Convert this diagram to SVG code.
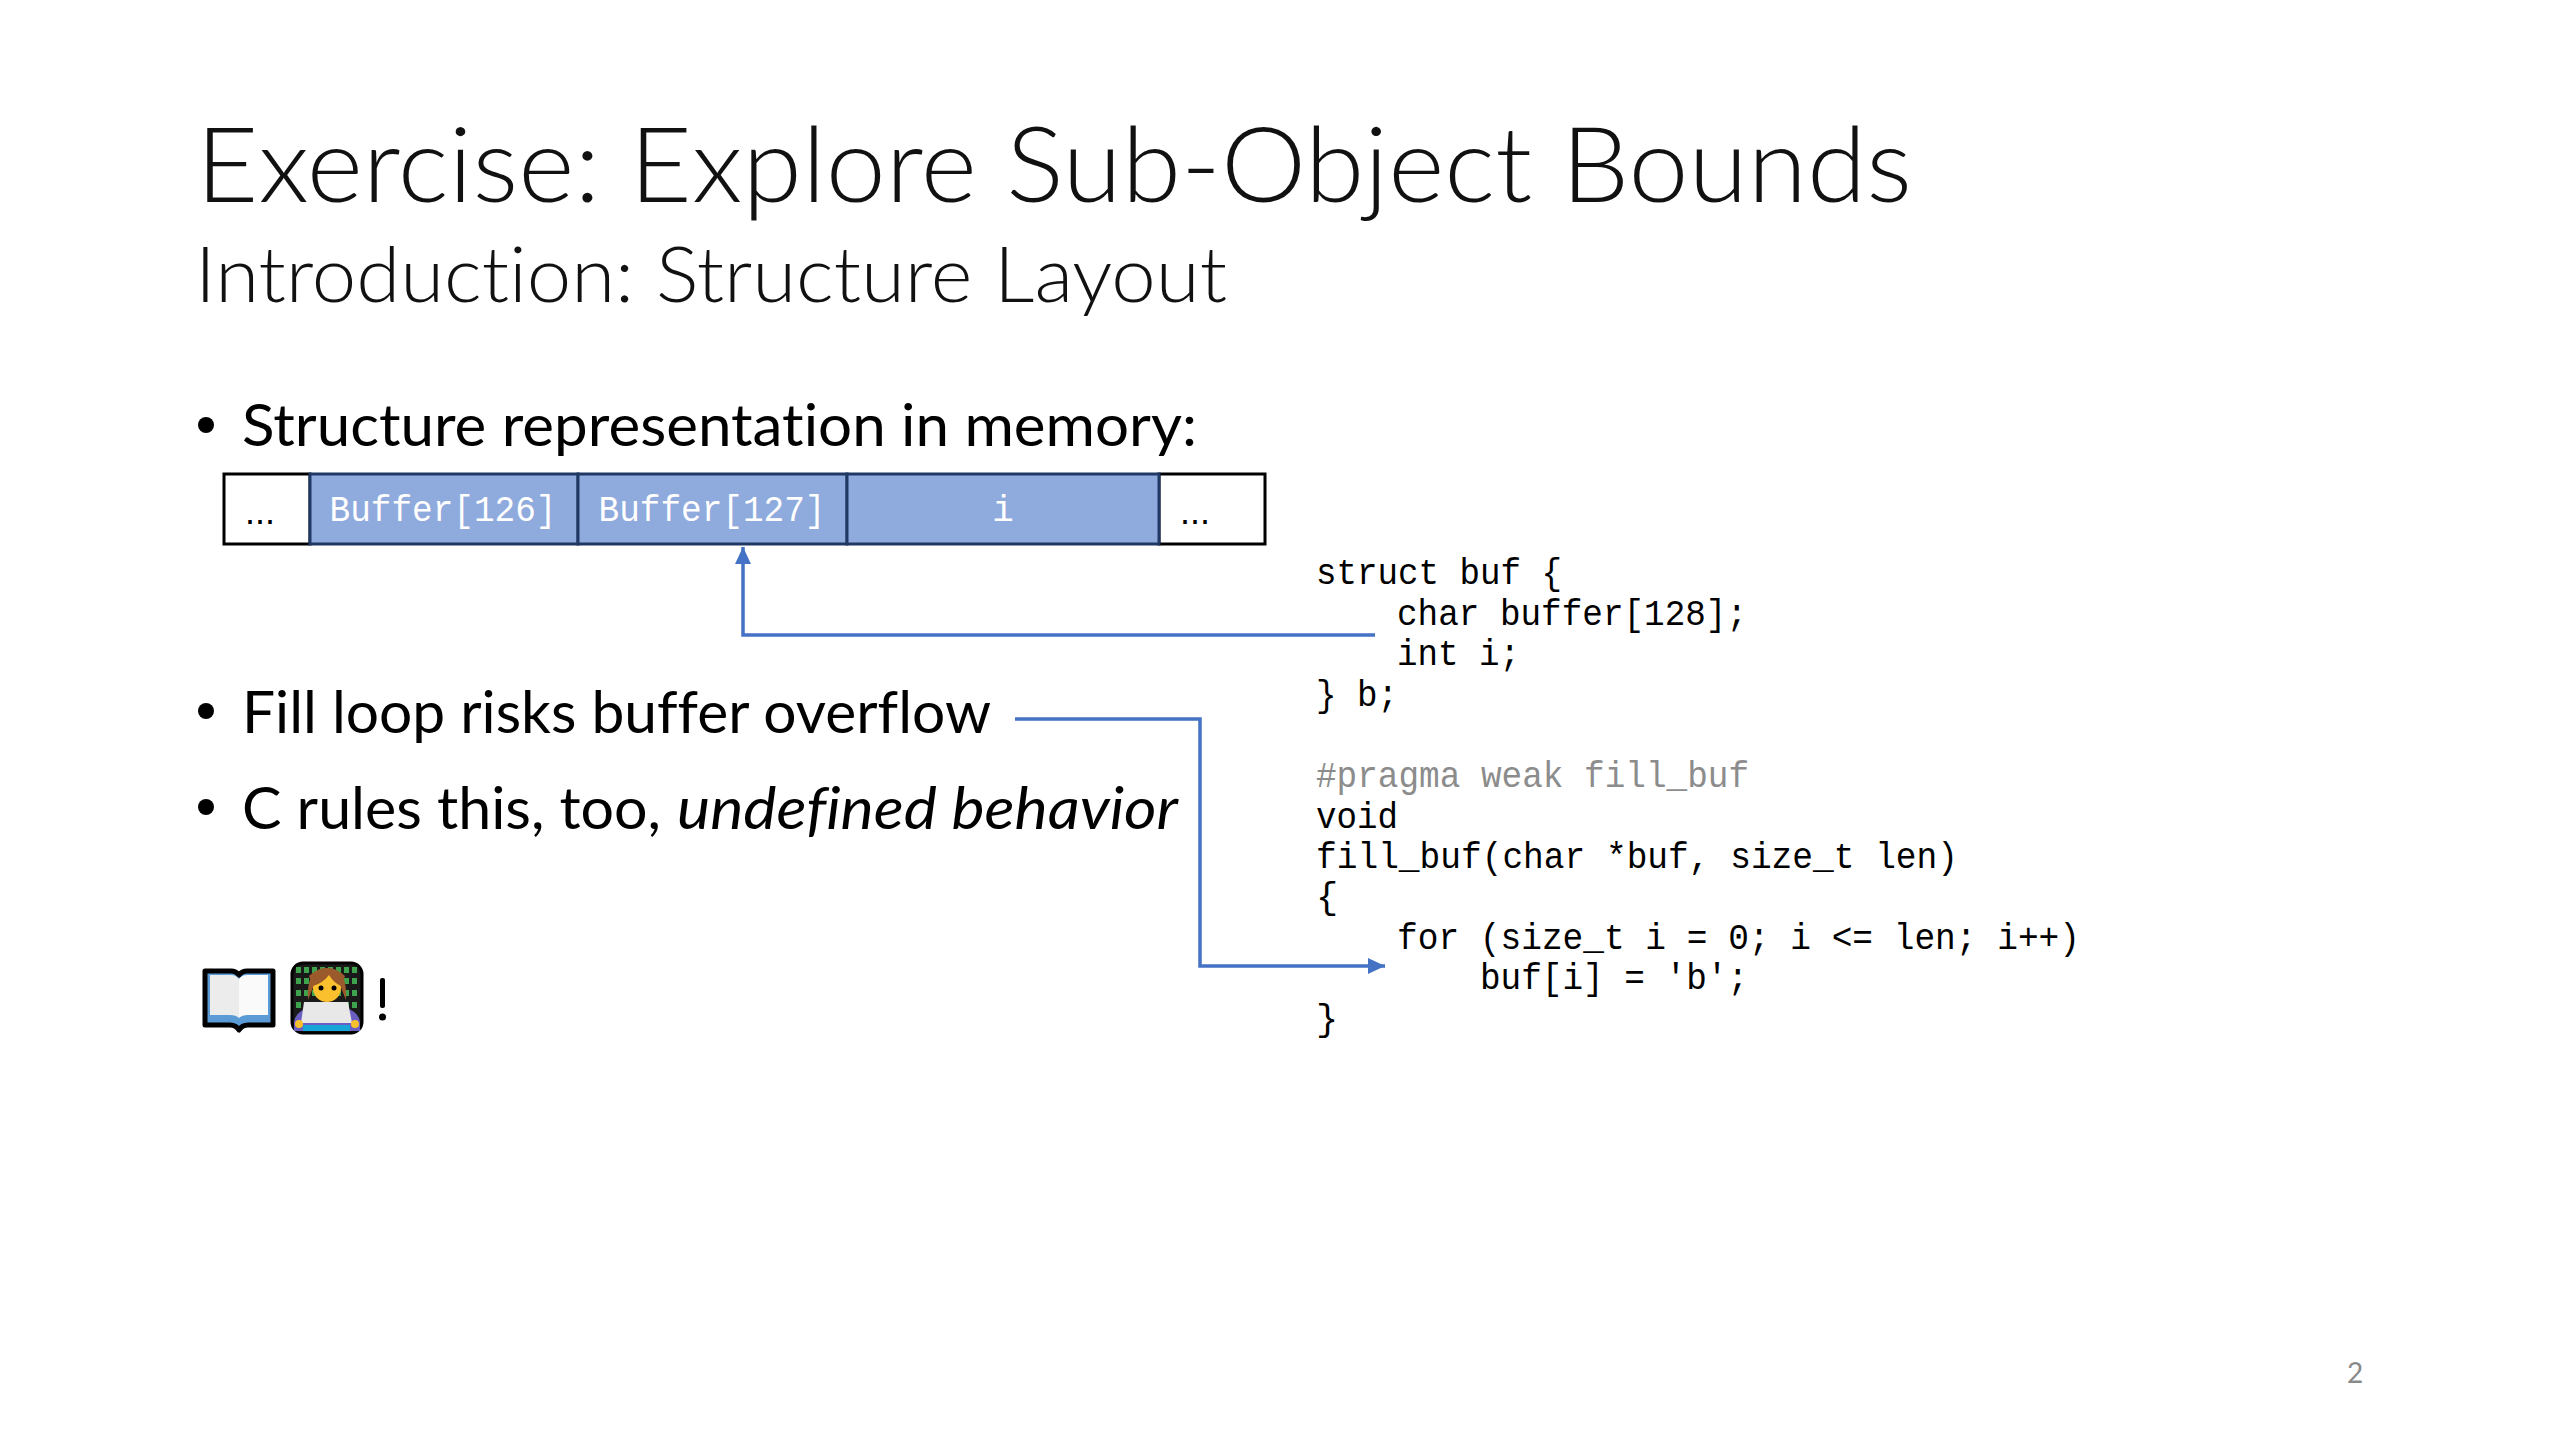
<svg xmlns="http://www.w3.org/2000/svg" width="2560" height="1440" viewBox="0 0 2560 1440">
<style>
text{font-variant-ligatures:none}
.h{font-family:Lato,"Open Sans","Liberation Sans",sans-serif;font-weight:300;fill:#111}
.b{font-family:Lato,"Open Sans","Liberation Sans",sans-serif;font-size:58px;fill:#000}
.c{font-family:"Liberation Mono","DejaVu Sans Mono",monospace;font-size:37px;fill:#000}
.cell{fill:#8faadc;stroke:#203864;stroke-width:3}
.end{fill:#fff;stroke:#000;stroke-width:3}
.m{font-family:"Liberation Mono",monospace;font-size:36px;fill:#fff;text-anchor:middle}
.dots{font-family:"Liberation Sans",sans-serif;font-size:36px;fill:#000;text-anchor:middle}
.conn{fill:none;stroke:#4472c4;stroke-width:3.5}
</style>
<defs>
<marker id="arr" markerUnits="userSpaceOnUse" markerWidth="18" markerHeight="18" refX="17" refY="8" orient="auto"><path d="M0 0L17 8L0 16Z" fill="#4472c4"/></marker>
</defs>
<rect width="2560" height="1440" fill="#fff"/>
<text class="h" x="196" y="202" font-size="104" textLength="1716" lengthAdjust="spacingAndGlyphs">Exercise: Explore Sub-Object Bounds</text>
<text class="h" x="195" y="302" font-size="76" textLength="1032" lengthAdjust="spacingAndGlyphs">Introduction: Structure Layout</text>
<circle cx="206" cy="425" r="8" fill="#000"/>
<text class="b" x="242" y="446" textLength="955" lengthAdjust="spacingAndGlyphs">Structure representation in memory:</text>
<circle cx="206" cy="711" r="8" fill="#000"/>
<text class="b" x="242" y="733" textLength="749" lengthAdjust="spacingAndGlyphs">Fill loop risks buffer overflow</text>
<circle cx="206" cy="807" r="8" fill="#000"/>
<text class="b" x="242" y="829" textLength="419" lengthAdjust="spacingAndGlyphs">C rules this, too,</text>
<text class="b" x="677" y="829" font-style="italic" textLength="501" lengthAdjust="spacingAndGlyphs">undefined behavior</text>
<g id="memory">
<g id="cell-start"><rect class="end" x="224" y="474" width="86" height="70"/><text class="dots" x="260" y="524">...</text></g>
<g id="cell-end"><rect class="end" x="1159" y="474" width="106" height="70"/><text class="dots" x="1195" y="524">...</text></g>
<g id="cell-126"><rect class="cell" x="310" y="474" width="268" height="70"/><text class="m" x="443" y="521" textLength="227" lengthAdjust="spacingAndGlyphs">Buffer[126]</text></g>
<g id="cell-127"><rect class="cell" x="578" y="474" width="269" height="70"/><text class="m" x="712" y="521" textLength="227" lengthAdjust="spacingAndGlyphs">Buffer[127]</text></g>
<g id="cell-i"><rect class="cell" x="847" y="474" width="312" height="70"/><text class="m" x="1003" y="521">i</text></g>
</g>
<g id="connectors">
<path class="conn" d="M1375 635H743V547" marker-end="url(#arr)"/>
<path class="conn" d="M1015 719H1200V966H1385" marker-end="url(#arr)"/>
</g>
<g id="code">
<text class="c" x="1316" y="584" textLength="246" lengthAdjust="spacingAndGlyphs">struct buf {</text>
<text class="c" x="1397" y="625" textLength="350" lengthAdjust="spacingAndGlyphs">char buffer[128];</text>
<text class="c" x="1397" y="665" textLength="123" lengthAdjust="spacingAndGlyphs">int i;</text>
<text class="c" x="1316" y="706" textLength="82" lengthAdjust="spacingAndGlyphs">} b;</text>
<text class="c" x="1316" y="787" textLength="433" lengthAdjust="spacingAndGlyphs" style="fill:#8c8c8c">#pragma weak fill_buf</text>
<text class="c" x="1316" y="828" textLength="82" lengthAdjust="spacingAndGlyphs">void</text>
<text class="c" x="1316" y="868" textLength="642" lengthAdjust="spacingAndGlyphs">fill_buf(char *buf, size_t len)</text>
<text class="c" x="1316" y="908">{</text>
<text class="c" x="1397" y="949" textLength="683" lengthAdjust="spacingAndGlyphs">for (size_t i = 0; i &lt;= len; i++)</text>
<text class="c" x="1480" y="989" textLength="268" lengthAdjust="spacingAndGlyphs">buf[i] = 'b';</text>
<text class="c" x="1316" y="1030">}</text>
</g>
<g id="emoji-book">
<path d="M205 971H231Q236 971 239 975Q242 971 247 971H273V1025H248Q242 1025 239 1030Q236 1025 230 1025H205Z" fill="#5b9bd5" stroke="#000" stroke-width="5" stroke-linejoin="round"/>
<path d="M210 975H231Q236 975 239 979V1018Q236 1015 230 1015H210Z" fill="#ececec"/>
<path d="M268 975H247Q242 975 239 979V1018Q242 1015 248 1015H268Z" fill="#fafafa"/>
</g>
<g id="emoji-techie">
<rect x="292" y="963" width="70" height="70" rx="11" fill="#1a1a1a" stroke="#000" stroke-width="3"/>
<path d="M296 970H358M296 981H358M296 993H358M296 1005H358" stroke="#3fa34d" stroke-width="6" stroke-dasharray="5 3"/>
<path d="M294 1031V1022Q296 1010 310 1008H344Q358 1010 360 1022V1031Z" fill="#6a5fc1"/>
<path d="M303 1031V1025H350V1031Z" fill="#16a5d6"/>
<path d="M308 1000Q306 968 327 968Q348 968 346 1000L340 985H314Z" fill="#9a5a2c"/>
<circle cx="327" cy="988" r="14" fill="#fbc02d"/>
<path d="M313 986Q323 983 329 975Q334 983 341 986L345 976Q327 960 309 976Z" fill="#9a5a2c"/>
<circle cx="321" cy="988" r="2.500" fill="#000"/><circle cx="334" cy="988" r="2.500" fill="#000"/>
<path d="M301 1023L304 1002H348L352 1023Z" fill="#e8e8e8"/>
<circle cx="299" cy="1024" r="4" fill="#fbc02d"/><circle cx="355" cy="1024" r="4" fill="#fbc02d"/>
</g>
<rect x="380" y="978" width="5" height="30" rx="2" fill="#000"/><circle cx="382.500" cy="1017" r="3.500" fill="#000"/>
<text x="2355" y="1383" font-family="Lato,'Open Sans',sans-serif" font-size="28" fill="#8a8a8a" text-anchor="middle">2</text>
</svg>
